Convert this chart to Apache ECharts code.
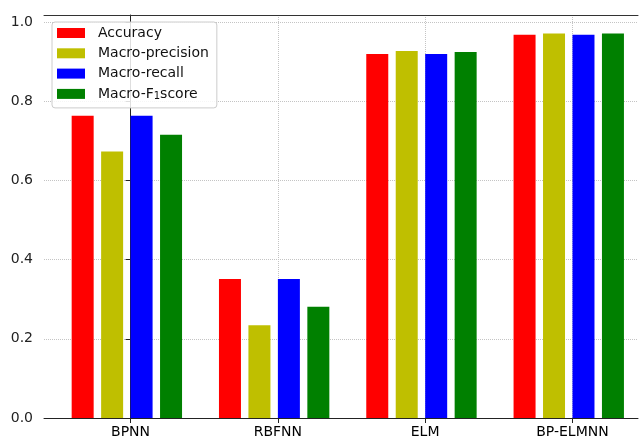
<!DOCTYPE html>
<html>
<head>
<meta charset="utf-8">
<script src="https://cdn.jsdelivr.net/npm/echarts@6/dist/echarts.min.js"></script>
<style>html,body{margin:0;padding:0;background:#fff;}#c{width:639px;height:439px;}</style>
</head>
<body>
<div id="c"></div>
<script>
const categories = ['BPNN', 'RBFNN', 'ELM', 'BP-ELMNN'];
const seriesNames = ['Accuracy', 'Macro-precision', 'Macro-recall', 'Macro-F1score'];
const seriesColors = ['#ff0000', '#bfbf00', '#0000ff', '#008000'];
const accuracy = [0.763, 0.351, 0.919, 0.968];
const macroPrecision = [0.673, 0.234, 0.927, 0.971];
const macroRecall = [0.763, 0.351, 0.919, 0.968];
const macroF1 = [0.715, 0.281, 0.924, 0.971];
const yTicks = [0, 0.2, 0.4, 0.6, 0.8, 1.0];

const allValues = [accuracy, macroPrecision, macroRecall, macroF1];
const catIdx = categories.map((_, i) => i);
// bar centre offsets within each group (in category units)
const offsets = [-0.325, -0.125, 0.075, 0.275];
// x range: the plot continues beyond the right edge of the picture
const xMin = -0.5875;
const xMax = xMin + 594 / 147.3;

const FONT = 'DejaVu Sans';
const chart = echarts.init(document.getElementById('c'), null, {renderer: 'canvas'});
chart.setOption({
  animation: false,
  backgroundColor: '#fff',
  grid: {left: 44, top: 15, right: 1, bottom: 20, show: false},
  legend: {
    orient: 'vertical', left: 52, top: 22,
    data: seriesNames,
    icon: 'rect', itemWidth: 28, itemHeight: 10, itemGap: 4.3,
    padding: [3, 8, 6, 5],
    backgroundColor: 'rgba(255,255,255,0.85)',
    borderColor: '#cccccc', borderWidth: 1, borderRadius: 3,
    formatter: n => n === 'Macro-F1score' ? 'Macro-F{s|1}score' : n,
    textStyle: {fontFamily: FONT, fontSize: 14, color: '#111', lineHeight: 16, padding: [0, 0, 0, 8],
      rich: {s: {fontFamily: FONT, fontSize: 10, lineHeight: 9, verticalAlign: 'bottom', color: '#111'}}}
  },
  xAxis: [{
    type: 'value', min: xMin, max: xMax,
    axisLine: {show: true, onZero: false, lineStyle: {color: '#222', width: 1}},
    axisTick: {show: true, length: 5, customValues: catIdx, lineStyle: {color: '#222'}},
    axisLabel: {customValues: catIdx, margin: 7, fontFamily: FONT, fontSize: 14, color: '#000',
      formatter: v => categories[Math.round(v)]},
    splitLine: {show: true, lineStyle: {color: '#c4c4c4', type: 'dotted', width: 1}}
  }, {
    type: 'value', min: xMin, max: xMax, position: 'top',
    axisLine: {show: true, onZero: false, lineStyle: {color: '#333', width: 1}},
    axisTick: {show: false}, axisLabel: {show: false}, splitLine: {show: false}
  }],
  yAxis: {
    type: 'value', min: 0, max: 1.0176,
    axisLine: {show: true, lineStyle: {color: '#222', width: 1}},
    axisTick: {show: true, length: 5, customValues: yTicks, lineStyle: {color: '#222'}},
    axisLabel: {customValues: yTicks, margin: 11, fontFamily: FONT, fontSize: 14, color: '#222',
      formatter: v => v.toFixed(1)},
    splitLine: {show: true, lineStyle: {color: '#c4c4c4', type: 'dotted', width: 1}}
  },
  series: seriesNames.map((name, k) => ({
    name: name,
    type: 'bar',
    barWidth: 22,
    barGap: '-100%',
    itemStyle: {color: seriesColors[k]},
    data: allValues[k].map((v, i) => [catIdx[i] + offsets[k], v])
  }))
});
</script>
</body>
</html>
